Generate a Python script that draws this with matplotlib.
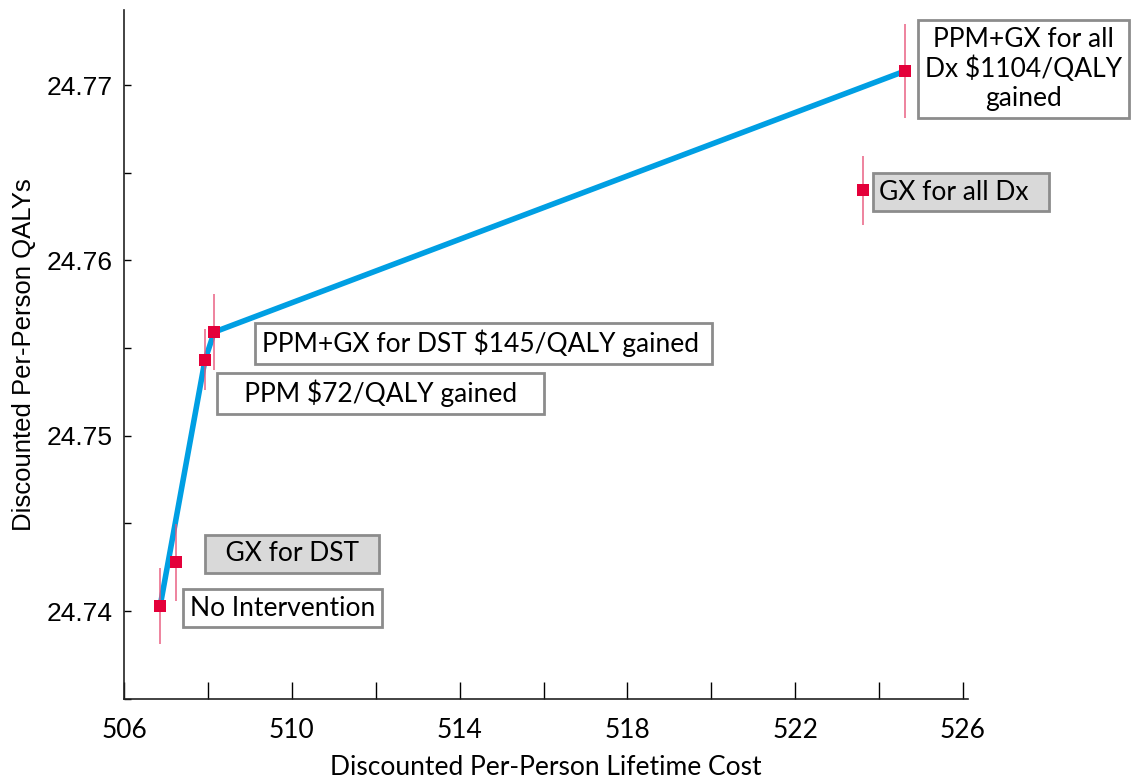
import numpy as np
import matplotlib.pyplot as plt
from matplotlib.ticker import MultipleLocator, FormatStrFormatter

# strategies: lifetime cost, QALYs, half-width of the uncertainty bar
strategies = ["No Intervention", "GX for DST", "PPM", "PPM+GX for DST",
              "GX for all Dx", "PPM+GX for all Dx"]
cost = [506.86, 507.24, 507.93, 508.15, 523.61, 524.62]
qaly = [24.74028, 24.74279, 24.75432, 24.75591, 24.76401, 24.77080]
qaly_err = [0.00217, 0.0022, 0.00174, 0.00217, 0.00197, 0.00268]
labels = ["No Intervention", "  GX for DST  ", "   PPM $72/QALY gained   ",
          "PPM+GX for DST $145/QALY gained ", "GX for all Dx  ",
          "PPM+GX for all\nDx $1104/QALY\ngained"]
dominated = [False, True, False, False, True, False]
xticks = [506, 510, 514, 518, 522, 526]

# efficient frontier
frontier = ["No Intervention", "PPM", "PPM+GX for DST", "PPM+GX for all Dx"]

# label offsets in points from each marker (text left edge, vertical centre)
offsets = [(21.3, -1.5), (25.6, 6), (13.4, -24), (34.3, -8), (12, -1.5),
           (14.2, 1.5)]

geo = "Lato"

fig = plt.figure(figsize=(11.36, 7.8), dpi=100)
ax = fig.add_axes([0.1092, 0.1038, 0.7429, 0.8834])

idx = [strategies.index(s) for s in frontier]
ax.plot([cost[i] for i in idx], [qaly[i] for i in idx], color="#009fe3",
        lw=4, solid_capstyle="round", zorder=2)
ax.errorbar(cost, qaly, yerr=qaly_err, fmt="none", ecolor="#e8557a",
            elinewidth=1.2, alpha=0.85, zorder=3)
ax.scatter(cost, qaly, marker="s", s=70, color="#e4003a", zorder=4,
           linewidths=0)

for i, lab in enumerate(labels):
    face = "#d9d9d9" if dominated[i] else "white"
    ax.annotate(lab, (cost[i], qaly[i]), xytext=offsets[i],
                textcoords="offset points", ha="left", va="center",
                fontsize=19, family=geo, multialignment="center",
                linespacing=1.2,
                bbox=dict(boxstyle="square,pad=0.25", fc=face, ec="#8c8c8c",
                          lw=2),
                zorder=5)

ax.set_xlim(506, 526.12)
ax.set_ylim(24.73498, 24.77428)
ax.set_xticks(xticks)
ax.xaxis.set_minor_locator(MultipleLocator(2))
ax.yaxis.set_major_locator(MultipleLocator(0.01))
ax.yaxis.set_minor_locator(MultipleLocator(0.005))
ax.yaxis.set_major_formatter(FormatStrFormatter("%.2f"))

for s in ["top", "right"]:
    ax.spines[s].set_visible(False)
for s in ["left", "bottom"]:
    ax.spines[s].set_linewidth(1.2)
    ax.spines[s].set_color("#222222")

ax.tick_params(axis="x", which="both", direction="in", length=12, width=1,
               pad=14, labelsize=19)
ax.tick_params(axis="y", which="both", direction="in", length=5, width=1,
               pad=8, labelsize=19)
for t in ax.get_xticklabels():
    t.set_family(geo)
for t in ax.get_yticklabels():
    t.set_family("Liberation Sans")

ax.set_xlabel("Discounted Per-Person Lifetime Cost", fontsize=19, family=geo,
              labelpad=8)
ax.set_ylabel("Discounted Per-Person QALYs", fontsize=18.5,
              family="Liberation Sans", labelpad=8)

fig.savefig("out.png", dpi=100, facecolor="white")
